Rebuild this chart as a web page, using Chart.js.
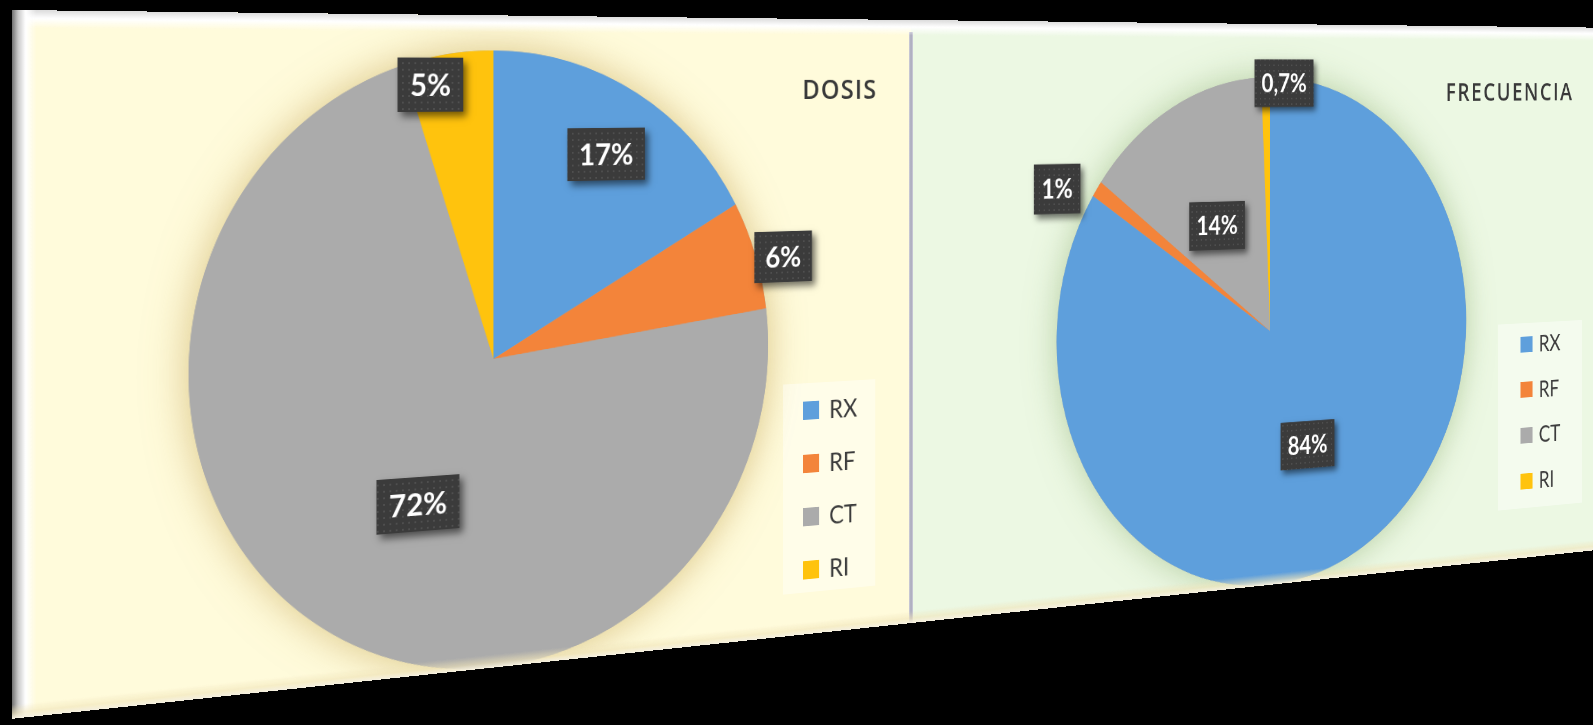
<!DOCTYPE html>
<html lang="es">
<head>
<meta charset="utf-8">
<title>Dosis y frecuencia por modalidad</title>
<script src="https://cdn.jsdelivr.net/npm/chart.js@4.4.1/dist/chart.umd.min.js"></script>
<style>
  html, body { margin: 0; padding: 0; background: #000; width: 1593px; height: 725px; overflow: hidden; }
  #board {
    position: absolute; left: 0; top: 0; width: 2105px; height: 706px;
    transform-origin: 0 0;
    font-family: Lato, "Open Sans", sans-serif;
  }
  .panel { position: absolute; top: 0; height: 706px; overflow: hidden; }
  #dosis { left: 0; width: 1034px; background: #FFFBDB; }
  #frec { left: 1034px; width: 1071px; background: #ECF8E3; }
  .panel canvas { position: absolute; left: 0; top: 0; }
  .title { position: absolute; color: #393939; white-space: nowrap; font-family: "Open Sans", Lato, sans-serif; font-weight: 600; }
  .legend { position: absolute; background: rgba(255, 255, 255, 0.4); }
  .legend .mark { position: absolute; }
  .legend .lbl { position: absolute; color: #3c3c3c; white-space: nowrap; }
  #divider {
    position: absolute; left: 1031px; top: 14px; width: 6px; height: 692px;
    background: linear-gradient(90deg, #d3d3de, #a7a7ba 50%, #d3d3de);
  }
  .bevel { position: absolute; pointer-events: none; }
  #bevelTop { left: 0; top: 0; width: 2105px; height: 18px;
    background: linear-gradient(180deg, #dcdcdc, #ffffff 45%, rgba(255,255,255,0)); }
  #bevelLeft { left: 0; top: 0; width: 24px; height: 706px;
    background: linear-gradient(90deg, #707070, #c8c8c8 25%, #ffffff 55%, rgba(255,255,255,0)); }
  #bevelBottom { left: 0; top: 692px; width: 2105px; height: 14px;
    background: linear-gradient(0deg, #f4efe0, rgba(240,228,185,0.6) 40%, rgba(240,228,185,0)); }
</style>
</head>
<body>
<div id="board">
  <div class="panel" id="dosis">
    <canvas id="dosisChart" width="1034" height="706"></canvas>
    <div class="title" id="dosisTitle">DOSIS</div>
  </div>
  <div class="panel" id="frec">
    <canvas id="frecChart" width="1071" height="706"></canvas>
    <div class="title" id="frecTitle">FRECUENCIA</div>
  </div>
  <div id="divider"></div>
  <div class="bevel" id="bevelTop"></div>
  <div class="bevel" id="bevelLeft"></div>
  <div class="bevel" id="bevelBottom"></div>
</div>

<script>
const categories = ["RX", "RF", "CT", "RI"];
const dosisValues = [17, 6, 72, 5];
const frecuenciaValues = [84, 1, 14, 0.7];
const sliceColors = ["#5E9FDC", "#F3843A", "#ABABAB", "#FFC30D"];

// the board is seen in perspective, leaning away to the right
document.getElementById("board").style.transform =
  "matrix3d(1.024,0.01306,0,0.0001696, 0,1.004,0,0, 0,0,1,0, 12,10,0,1)";

function dotPattern(ctx) {
  const c = document.createElement("canvas");
  c.width = 7; c.height = 7;
  const g = c.getContext("2d");
  g.fillStyle = "rgba(255,255,255,0.10)";
  g.fillRect(2, 2, 2, 2);
  return ctx.createPattern(c, "repeat");
}

// soft halo under the whole pie
const pieGlow = {
  id: "pieGlow",
  beforeDatasetsDraw(chart, args, opts) {
    const arc = chart.getDatasetMeta(0).data[0];
    if (!arc) return;
    const p = arc.getProps(["x", "y", "outerRadius"], true);
    const ctx = chart.ctx;
    ctx.save();
    ctx.shadowColor = opts.color;
    ctx.shadowBlur = opts.blur;
    ctx.fillStyle = "#aaa";
    ctx.beginPath();
    ctx.arc(p.x, p.y, p.outerRadius, 0, Math.PI * 2);
    ctx.fill();
    ctx.restore();
  }
};

// dark callout boxes with the percentage of each slice
const boxLabels = {
  id: "boxLabels",
  afterDatasetsDraw(chart, args, opts) {
    const ctx = chart.ctx;
    const values = chart.data.datasets[0].data;
    const pattern = dotPattern(ctx);
    ctx.save();
    ctx.font = "bold " + opts.size + "px Lato, sans-serif";
    chart.getDatasetMeta(0).data.forEach((arc, i) => {
      const p = arc.getProps(["x", "y", "startAngle", "endAngle", "outerRadius"], true);
      const spot = opts.spots[i];
      const a = (p.startAngle + p.endAngle) / 2 + spot[1] * Math.PI / 180;
      const cx = p.x + Math.cos(a) * p.outerRadius * spot[0];
      const cy = p.y + Math.sin(a) * p.outerRadius * spot[0];
      const text = String(values[i]).replace(".", ",") + "%";
      const w = ctx.measureText(text).width + opts.padX * 2;
      const h = opts.height;
      const x0 = cx - w / 2, y0 = cy - h / 2;

      ctx.save();
      ctx.shadowColor = "rgba(0,0,0,0.55)";
      ctx.shadowBlur = 8;
      ctx.shadowOffsetX = 4;
      ctx.shadowOffsetY = 5;
      ctx.fillStyle = "#3b3b3b";
      ctx.fillRect(x0, y0, w, h);
      ctx.restore();

      ctx.fillStyle = pattern;
      ctx.fillRect(x0, y0, w, h);

      ctx.fillStyle = "#ffffff";
      ctx.textAlign = "center";
      ctx.textBaseline = "alphabetic";
      ctx.fillText(text, cx, cy + opts.size * 0.36);
    });
    ctx.restore();
  }
};

function makePie(canvasId, values, padding, glow, labels) {
  return new Chart(document.getElementById(canvasId), {
    type: "pie",
    data: {
      labels: categories,
      datasets: [{
        data: values,
        backgroundColor: sliceColors,
        borderWidth: 0
      }]
    },
    options: {
      responsive: false,
      animation: false,
      events: [],
      layout: { padding },
      plugins: {
        legend: { display: false },
        tooltip: { enabled: false },
        pieGlow: glow,
        boxLabels: labels
      }
    },
    plugins: [pieGlow, boxLabels]
  });
}

function makeLegend(panelId, box, markX, markSize, textX, firstY, stepY, fontSize) {
  const panel = document.getElementById(panelId);
  const lg = document.createElement("div");
  lg.className = "legend";
  Object.assign(lg.style, {
    left: box[0] + "px", top: box[1] + "px", width: box[2] + "px", height: box[3] + "px"
  });
  panel.appendChild(lg);
  categories.forEach((name, i) => {
    const cy = firstY + i * stepY - box[1];
    const m = document.createElement("div");
    m.className = "mark";
    Object.assign(m.style, {
      left: (markX - box[0]) + "px", top: (cy - markSize / 2) + "px",
      width: markSize + "px", height: markSize + "px", background: sliceColors[i]
    });
    const t = document.createElement("div");
    t.className = "lbl";
    t.textContent = name;
    Object.assign(t.style, {
      left: (textX - box[0]) + "px", top: (cy - fontSize / 2 - 1) + "px",
      fontSize: fontSize + "px", lineHeight: fontSize + "px"
    });
    lg.appendChild(m);
    lg.appendChild(t);
  });
}

function placeTitle(id, left, top, size, spacing) {
  Object.assign(document.getElementById(id).style, {
    left: left + "px", top: top + "px", fontSize: size + "px",
    lineHeight: size + "px", letterSpacing: spacing + "px"
  });
}

placeTitle("dosisTitle", 890, 65, 31, 1.6);
placeTitle("frecTitle", 807, 70, 32, 2.8);

makeLegend("dosis", [865, 418, 121, 240], 891, 21, 925, 449, 61.3, 29);
makeLegend("frec", [896, 394, 148, 246], 935, 21, 967, 422, 60.7, 30);

makePie("dosisChart", dosisValues,
  { top: 38, bottom: 0, left: 178, right: 188 },
  { color: "rgba(185,150,60,0.55)", blur: 45 },
  { size: 33, padX: 14, height: 58,
    spots: [[0.77, 0.6], [1.10, 2.2], [0.52, -2.8], [0.915, -4.6]] });

makePie("frecChart", frecuenciaValues,
  { top: 67, bottom: -1, left: 202, right: 229 },
  { color: "rgba(130,165,100,0.5)", blur: 45 },
  { size: 32, padX: 11, height: 60,
    spots: [[0.495, 6.4], [1.153, -5.0], [0.493, -3.5], [0.979, 5.3]] });
</script>
</body>
</html>
